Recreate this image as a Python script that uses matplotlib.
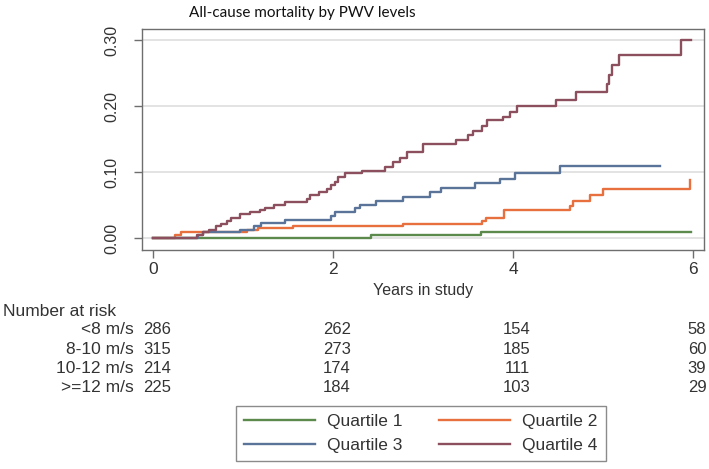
import matplotlib
matplotlib.use("Agg")
import matplotlib.pyplot as plt

plt.rcParams['font.family'] = ['Liberation Sans', 'DejaVu Sans']

# Kaplan-Meier failure curves (years, cumulative mortality)
q1_t = [0, 2.42, 3.64, 5.98]
q1_v = [0, 0.004, 0.009, 0.009]

q2_t = [0, 0.25, 0.31, 1.04, 1.17, 1.56, 2.78, 3.65, 3.70, 3.90, 4.63, 4.67, 4.85, 5.00, 5.97]
q2_v = [0, 0.005, 0.009, 0.013, 0.015, 0.019, 0.022, 0.026, 0.031, 0.042, 0.048, 0.057, 0.065, 0.074, 0.088]

q3_t = [0, 0.50, 0.56, 0.97, 1.12, 1.20, 1.47, 1.98, 2.02, 2.24, 2.30, 2.48, 2.78, 3.08, 3.20,
        3.58, 3.86, 4.02, 4.52, 5.63]
q3_v = [0, 0.005, 0.009, 0.013, 0.018, 0.023, 0.028, 0.033, 0.040, 0.045, 0.050, 0.056, 0.063, 0.070, 0.076,
        0.083, 0.090, 0.098, 0.110, 0.110]

q4_t = [0, 0.49, 0.56, 0.62, 0.70, 0.76, 0.82, 0.87, 0.97, 1.08, 1.19, 1.24, 1.34, 1.47, 1.71, 1.74, 1.84,
        1.93, 1.98, 2.02, 2.06, 2.13, 2.32, 2.58, 2.67, 2.74, 2.82, 3.00, 3.37, 3.50, 3.56, 3.65, 3.71,
        3.89, 3.97, 4.04, 4.48, 4.70, 5.04, 5.07, 5.10, 5.18, 5.87, 5.98]
q4_v = [0, 0.005, 0.009, 0.013, 0.018, 0.022, 0.026, 0.031, 0.036, 0.040, 0.043, 0.045, 0.050, 0.055, 0.060,
        0.065, 0.070, 0.075, 0.080, 0.085, 0.093, 0.098, 0.102, 0.108, 0.116, 0.121, 0.131, 0.143, 0.149,
        0.156, 0.163, 0.170, 0.179, 0.184, 0.191, 0.200, 0.210, 0.222, 0.234, 0.248, 0.262, 0.277, 0.300, 0.300]

labels = ['Quartile 1', 'Quartile 2', 'Quartile 3', 'Quartile 4']
colors = ['#5b8a4c', '#e8703f', '#5a7399', '#8c4f5e']

# number at risk table
risk_times = [0, 2, 4, 6]
risk_groups = ['<8 m/s', '8-10 m/s', '10-12 m/s', '>=12 m/s']
risk_counts = [[286, 262, 154, 58],
               [315, 273, 185, 60],
               [214, 174, 111, 39],
               [225, 184, 103, 29]]

W, H = 709, 469
fig = plt.figure(figsize=(W / 100, H / 100), dpi=100)
ax = fig.add_axes([142 / W, 1 - 250 / H, (704 - 142) / W, (250 - 29) / H])

txt = '#333333'
lines = []
for t, v, c, lab in zip([q1_t, q2_t, q3_t, q4_t], [q1_v, q2_v, q3_v, q4_v], colors, labels):
    ln, = ax.plot(t, v, drawstyle='steps-post', color=c, lw=1.7, label=lab, zorder=3)
    lines.append(ln)

ax.set_xlim(-0.122, 6.122)
ax.set_ylim(-0.018, 0.317)
ax.set_xticks([0, 2, 4, 6])
ax.set_yticks([0, 0.1, 0.2, 0.3])
ax.set_yticklabels(['0.00', '0.10', '0.20', '0.30'], rotation=90, va='center')
ax.grid(axis='y', color='#e3e3e3', lw=1.4, zorder=0)
for s in ax.spines.values():
    s.set_color('#6e6e6e')
    s.set_linewidth(1.0)
ax.tick_params(axis='y', length=6, width=1, color='#6e6e6e', labelsize=11.5, labelcolor=txt, pad=10)
ax.tick_params(axis='x', length=6, width=1, color='#6e6e6e', labelsize=12.5, labelcolor=txt, pad=3)

fig.text(302 / W, 1 - 13 / H, 'All-cause mortality by PWV levels', ha='center', va='center',
         fontsize=11, family=['Lato', 'DejaVu Sans'], color='#111111')
fig.text(423 / W, 1 - 290 / H, 'Years in study', ha='center', va='center', fontsize=11.5, color=txt)

# risk table below the axis
fig.text(3 / W, 1 - 311 / H, 'Number at risk', ha='left', va='center', fontsize=12.5, color=txt)
row_y = [330, 349, 368, 387]
for i, grp in enumerate(risk_groups):
    yf = 1 - row_y[i] / H
    fig.text(134 / W, yf, grp, ha='right', va='center', fontsize=12.5, color=txt)
    for tx, n in zip(risk_times, risk_counts[i]):
        xf = fig.transFigure.inverted().transform(ax.transData.transform((tx, 0)))[0]
        fig.text(xf + 4 / W, yf, str(n), ha='center', va='center', fontsize=12, color=txt)

# legend in rows: Q1 Q2 / Q3 Q4
order = [0, 2, 1, 3]
leg = fig.legend([lines[i] for i in order], [labels[i] for i in order], ncol=2, loc='upper left',
                 bbox_to_anchor=(236 / W, 1 - 406 / H),
                 fontsize=12.5, frameon=True, fancybox=False, handlelength=4.1, handletextpad=0.7,
                 columnspacing=2.1, labelspacing=0.5, borderpad=0.45, borderaxespad=0)
leg.get_frame().set_edgecolor('#6e6e6e')
leg.get_frame().set_linewidth(1.0)
for t in leg.get_texts():
    t.set_color(txt)

fig.savefig('out.png', dpi=100)
